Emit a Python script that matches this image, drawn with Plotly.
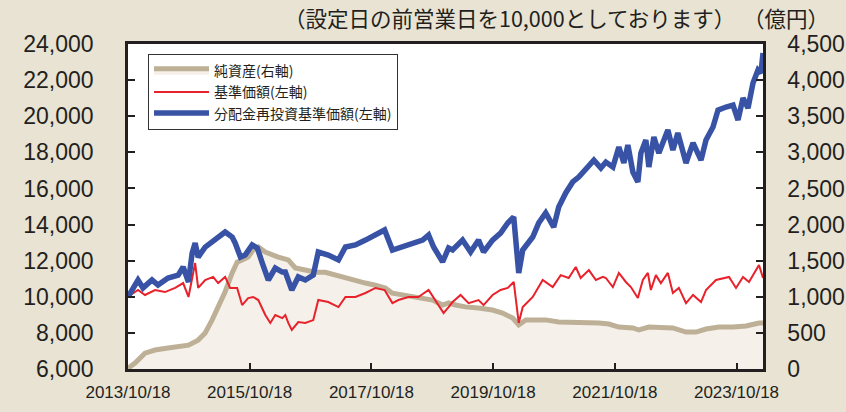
import plotly.graph_objects as go

# ---------------- data ----------------
blue_dates = [
    "2013-10-18", "2013-12-17", "2014-01-16", "2014-03-11", "2014-04-16", "2014-06-15",
    "2014-08-15", "2014-09-14", "2014-10-16", "2014-11-07", "2014-11-25", "2014-12-13",
    "2015-01-24", "2015-03-07", "2015-04-24", "2015-05-24", "2015-07-05", "2015-07-23",
    "2015-08-24", "2015-09-21", "2015-11-02", "2015-12-03", "2016-01-02", "2016-02-07",
    "2016-03-20", "2016-05-01", "2016-05-19", "2016-06-27", "2016-08-05", "2016-09-16",
    "2016-11-03", "2016-12-03", "2017-02-01", "2017-04-03", "2017-05-15", "2017-07-14",
    "2017-09-12", "2017-11-11", "2018-01-05", "2018-02-21", "2018-04-22", "2018-06-21",
    "2018-08-21", "2018-09-26", "2018-10-26", "2018-12-19", "2019-01-24", "2019-02-17",
    "2019-04-18", "2019-06-05", "2019-07-23", "2019-08-22", "2019-10-15", "2019-12-02",
    "2020-01-14", "2020-02-19", "2020-03-20", "2020-04-13", "2020-06-12", "2020-07-18",
    "2020-08-29", "2020-10-16", "2020-11-15", "2020-12-27", "2021-02-07", "2021-03-15",
    "2021-04-26", "2021-06-14", "2021-07-26", "2021-08-25", "2021-10-06", "2021-11-11",
    "2021-12-11", "2022-01-04", "2022-02-03", "2022-03-05", "2022-03-23", "2022-04-22",
    "2022-05-10", "2022-06-09", "2022-07-09", "2022-09-01", "2022-10-01", "2022-10-31",
    "2022-12-19", "2023-01-30", "2023-03-19", "2023-04-18", "2023-05-30", "2023-06-29",
    "2023-08-16", "2023-09-27", "2023-10-27", "2023-11-26", "2023-12-26", "2024-01-25",
    "2024-02-24", "2024-03-13", "2024-03-25",
]
blue_values = [
    10000, 10930, 10490, 10930, 10650, 11040,
    11200, 11650, 10820, 12420, 12980, 12200,
    12750, 13030, 13310, 13590, 13310, 12980,
    12200, 12310, 12870, 12700, 11870, 10930,
    11590, 11370, 11370, 10375, 11100, 10930,
    11200, 12480, 12310, 12040, 12760, 12870,
    13140, 13420, 13700, 12590, 12760, 12980,
    13140, 13420, 12760, 11930, 12700, 12590,
    13140, 12480, 13140, 12480, 13140, 13530,
    14090, 14420, 11320, 12590, 13310, 14090,
    14640, 13860, 14970, 15750, 16360, 16630,
    17020, 17570, 17130, 17460, 17190, 18290,
    17410, 18400, 16910, 16360, 17960, 18680,
    17190, 18850, 17960, 19240, 18130, 19070,
    17410, 18520, 17570, 18680, 19400, 20340,
    20510, 20620, 19790, 21010, 20450, 21840,
    22560, 22390, 23500,
]

red_dates = [
    "2013-10-18", "2013-12-17", "2014-01-28", "2014-03-29", "2014-05-28", "2014-07-28",
    "2014-09-14", "2014-10-16", "2014-11-25", "2014-12-13", "2015-01-24", "2015-03-13",
    "2015-04-12", "2015-05-24", "2015-06-23", "2015-08-04", "2015-09-03", "2015-10-09",
    "2015-11-08", "2015-12-09", "2016-01-20", "2016-02-19", "2016-03-20", "2016-05-01",
    "2016-05-19", "2016-06-06", "2016-06-27", "2016-08-05", "2016-09-16", "2016-11-03",
    "2016-12-03", "2017-02-01", "2017-04-03", "2017-05-15", "2017-07-14", "2017-09-12",
    "2017-11-11", "2018-01-05", "2018-02-21", "2018-03-29", "2018-05-28", "2018-07-27",
    "2018-09-26", "2018-10-26", "2018-12-25", "2019-01-24", "2019-02-17", "2019-04-06",
    "2019-05-24", "2019-07-23", "2019-08-22", "2019-10-15", "2019-12-02", "2020-01-14",
    "2020-02-19", "2020-03-20", "2020-04-13", "2020-06-12", "2020-08-11", "2020-10-10",
    "2020-11-27", "2021-01-14", "2021-02-25", "2021-03-27", "2021-05-15", "2021-06-26",
    "2021-08-07", "2021-08-25", "2021-10-06", "2021-11-11", "2021-12-23", "2022-01-22",
    "2022-03-05", "2022-04-04", "2022-05-04", "2022-05-22", "2022-06-21", "2022-07-21",
    "2022-09-01", "2022-10-01", "2022-11-06", "2022-12-19", "2023-01-30", "2023-03-19",
    "2023-04-18", "2023-06-17", "2023-07-29", "2023-09-03", "2023-10-15", "2023-11-26",
    "2024-01-01", "2024-01-31", "2024-03-01", "2024-03-25",
]
red_values = [
    10000, 10375, 10100, 10375, 10260, 10490,
    10760, 9990, 11870, 10490, 10930, 11100,
    10760, 11100, 10490, 10490, 9540, 9930,
    9990, 9820, 8990, 8550, 8990, 8820,
    8990, 8550, 8160, 8600, 8550, 8710,
    9820, 9710, 9430, 9990, 9990, 10210,
    10490, 10375, 9650, 9820, 9990, 9990,
    10375, 9930, 9100, 9430, 9710, 10100,
    9650, 9820, 9540, 10100, 10375, 10490,
    10820, 8550, 9430, 9990, 10930, 10540,
    11200, 11040, 11650, 11040, 11480, 10930,
    11100, 11040, 10540, 11320, 10820, 10540,
    9930, 10930, 11320, 10375, 11200, 10760,
    11320, 10210, 10490, 9650, 10100, 9710,
    10375, 10930, 11040, 11100, 10490, 11100,
    10820, 11320, 11760, 11040,
]

assets_dates = [
    "2013-10-18", "2013-11-29", "2014-01-28", "2014-03-29", "2014-06-15", "2014-08-15",
    "2014-10-16", "2014-12-13", "2015-01-24", "2015-03-07", "2015-04-12", "2015-05-24",
    "2015-07-05", "2015-08-04", "2015-09-03", "2015-10-09", "2015-11-08", "2015-12-09",
    "2016-01-20", "2016-03-02", "2016-04-07", "2016-06-06", "2016-07-18", "2016-09-16",
    "2016-11-15", "2017-01-14", "2017-03-15", "2017-05-15", "2017-07-14", "2017-09-12",
    "2017-11-11", "2018-01-10", "2018-02-21", "2018-04-22", "2018-06-21", "2018-08-21",
    "2018-10-20", "2018-12-19", "2019-01-24", "2019-03-07", "2019-05-06", "2019-07-23",
    "2019-10-15", "2019-12-14", "2020-02-13", "2020-03-20", "2020-05-01", "2020-06-30",
    "2020-08-29", "2020-11-15", "2021-02-07", "2021-04-26", "2021-07-14", "2021-09-12",
    "2021-11-11", "2022-02-03", "2022-03-11", "2022-05-10", "2022-08-02", "2022-10-01",
    "2022-12-19", "2023-02-17", "2023-04-18", "2023-07-05", "2023-09-27", "2023-12-14",
    "2024-03-01", "2024-03-25",
]
assets_values = [
    10, 83, 220, 263, 290, 305,
    330, 400, 500, 680, 860, 1070,
    1330, 1480, 1510, 1550, 1650, 1690,
    1620, 1580, 1550, 1510, 1400, 1370,
    1340, 1340, 1300, 1270, 1230, 1190,
    1160, 1120, 1050, 1025, 1000, 980,
    955, 886, 914, 886, 860, 845,
    817, 775, 706, 610, 680, 680,
    680, 650, 650, 650, 637, 623,
    580, 568, 540, 580, 568, 568,
    512, 512, 554, 580, 580, 595,
    637, 637,
]

x_tick_dates = ["2013-10-18", "2015-10-18", "2017-10-18", "2019-10-18", "2021-10-18", "2023-10-18"]
x_tick_labels = ["2013/10/18", "2015/10/18", "2017/10/18", "2019/10/18", "2021/10/18", "2023/10/18"]

names = ["純資産(右軸)", "基準価額(左軸)", "分配金再投資基準価額(左軸)"]

# ---------------- figure ----------------
INK = "#231F20"
BG = "#E8E3D3"
fig = go.Figure()

fig.add_trace(go.Scatter(
    x=assets_dates, y=assets_values, name=names[0], yaxis="y", mode="lines",
    line=dict(color="#BDB096", width=5), fill="tozeroy", fillcolor="#F5F1EA",
))
fig.add_trace(go.Scatter(
    x=red_dates, y=red_values, name=names[1], yaxis="y2", mode="lines",
    line=dict(color="#E8212A", width=2),
))
fig.add_trace(go.Scatter(
    x=blue_dates, y=blue_values, name=names[2], yaxis="y2", mode="lines",
    line=dict(color="#3853A5", width=5.5),
))

num_font = dict(family="Liberation Sans, Arial", size=23, color=INK)
title_font = dict(family="Noto Sans CJK JP", size=21.5, color=INK)

fig.update_layout(
    width=846, height=412,
    margin=dict(l=128, r=83, t=44, b=43),
    paper_bgcolor=BG,
    plot_bgcolor="white",
    showlegend=True,
    legend=dict(
        x=0.0315, y=0.969, xanchor="left", yanchor="top",
        bgcolor="white", bordercolor="#333333", borderwidth=1,
        font=dict(family="Noto Sans CJK JP", size=14, color=INK),
        itemwidth=55, tracegroupgap=0,
        entrywidth=222, entrywidthmode="pixels",
    ),
    xaxis=dict(
        type="date", range=["2013-10-18", "2024-03-25"],
        tickmode="array", tickvals=x_tick_dates, ticktext=x_tick_labels,
        ticks="inside", ticklen=6, tickwidth=1.5, tickcolor=INK,
        showline=True, linewidth=2.5, linecolor=INK, mirror=True,
        showgrid=False, zeroline=False, automargin=False,
        tickfont=dict(family="Liberation Sans, Arial", size=17, color=INK),
        ticklabelstandoff=6,
    ),
    yaxis=dict(
        side="right", range=[0, 4500], dtick=500, tick0=0, tickformat=",d",
        ticks="inside", ticklen=7, tickwidth=2, tickcolor=INK,
        showline=True, linewidth=2.5, linecolor=INK,
        showgrid=False, zeroline=False, automargin=False,
        tickfont=num_font, ticklabelstandoff=17,
    ),
    yaxis2=dict(
        side="left", overlaying="y", range=[6000, 24000], dtick=2000, tick0=6000,
        tickformat=",d",
        ticks="inside", ticklen=7, tickwidth=2, tickcolor=INK,
        showline=True, linewidth=2.5, linecolor=INK,
        showgrid=False, zeroline=False, automargin=False,
        tickfont=num_font, ticklabelstandoff=27,
    ),
    annotations=[
        dict(text="（設定日の前営業日を10,000としております）", xref="paper", yref="paper",
             x=0.6, y=1.08, xanchor="center", yanchor="middle", showarrow=False,
             borderpad=0, font=title_font),
        dict(text="（億円）", xref="paper", yref="paper",
             x=1.0362, y=1.08, xanchor="center", yanchor="middle", showarrow=False,
             borderpad=0, font=title_font),
    ],
)

fig.write_html(
    "out.html",
    config={"displayModeBar": False},
    post_script="document.body.style.margin='0px';document.body.style.background='%s';" % BG,
)
